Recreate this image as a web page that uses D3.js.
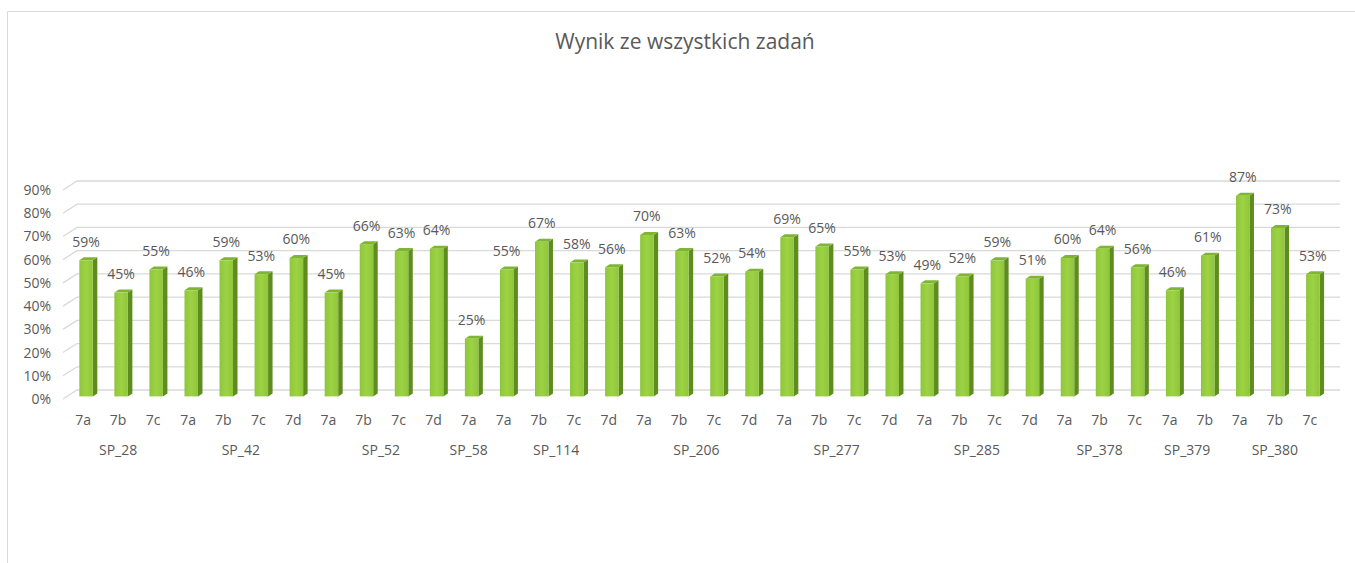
<!DOCTYPE html>
<html><head><meta charset="utf-8">
<script src="https://cdn.jsdelivr.net/npm/d3@7"></script>
<style>
html,body{margin:0;padding:0;background:#fff;}
svg{display:block;font-family:"Open Sans","Liberation Sans",sans-serif;}
</style></head>
<body>
<svg id="chart" width="1355" height="563"></svg>
<script>
const title = "Wynik ze wszystkich zadań";
const schools = ["SP_28","SP_42","SP_52","SP_58","SP_114","SP_206","SP_277","SP_285","SP_378","SP_379","SP_380"];
const classes = [
  ["7a","7b","7c"],
  ["7a","7b","7c","7d"],
  ["7a","7b","7c","7d"],
  ["7a"],
  ["7a","7b","7c","7d"],
  ["7a","7b","7c","7d"],
  ["7a","7b","7c","7d"],
  ["7a","7b","7c","7d"],
  ["7a","7b","7c"],
  ["7a","7b"],
  ["7a","7b","7c"]
];
const values = [
  [0.59,0.45,0.55],
  [0.46,0.59,0.53,0.60],
  [0.45,0.66,0.63,0.64],
  [0.25],
  [0.55,0.67,0.58,0.56],
  [0.70,0.63,0.52,0.54],
  [0.69,0.65,0.55,0.53],
  [0.49,0.52,0.59,0.51],
  [0.60,0.64,0.56],
  [0.46,0.61],
  [0.87,0.73,0.53]
];
const yTicks = [0,0.1,0.2,0.3,0.4,0.5,0.6,0.7,0.8,0.9];

// flatten
const rows = [];
schools.forEach((s,gi)=>classes[gi].forEach((c,ci)=>rows.push({school:s,cls:c,value:values[gi][ci],g:gi,key:gi+"_"+ci})));

const svg = d3.select("#chart");
const textColor = "#595959";
const fs = 14;

// frame
svg.append("path").attr("d","M7.5,563 V11.5 H1355").attr("fill","none").attr("stroke","#d9d9d9").attr("stroke-width",1);

// title
svg.append("text").attr("x",685).attr("y",49).attr("text-anchor","middle")
  .attr("font-size",21).attr("fill",textColor).text(title);

// scales
const x = d3.scaleBand().domain(rows.map(d=>d.key)).range([62,1336.9]).paddingInner(0.615).paddingOuter(0.494);
const yBack = d3.scaleLinear().domain([0,0.9]).range([390,181]);
const yFront = d3.scaleLinear().domain([0,1]).range([396.4,165.7]);
const depthX = 14, depthY = 9;      // wall perspective offset
const sideW = 4.5, topH = 3;        // bar side/top

// gridlines (back wall + left wall diagonal)
const grid = svg.append("g");
yTicks.forEach(t=>{
  const yb = yBack(t);
  grid.append("path")
    .attr("d",`M${63},${yb+depthY} L${63+depthX},${yb} H1340`)
    .attr("fill","none").attr("stroke","#d9d9d9").attr("stroke-width",1.3);
});

// y axis labels
svg.append("g").selectAll("text").data(yTicks).join("text")
  .attr("x",51).attr("y",t=>yBack(t)+depthY+5)
  .attr("text-anchor","end").attr("font-size",fs).attr("fill",textColor)
  .text(d3.format(".0%"));

// bars
const defs = svg.append("defs");
const gF = defs.append("linearGradient").attr("id","front").attr("x1",0).attr("x2",1).attr("y1",0).attr("y2",0);
gF.append("stop").attr("offset","0%").attr("stop-color","#8ec63c");
gF.append("stop").attr("offset","50%").attr("stop-color","#9dd243");
gF.append("stop").attr("offset","100%").attr("stop-color","#8ec63c");

const bars = svg.append("g").selectAll("g").data(rows).join("g");
bars.append("path") // side
  .attr("d",d=>{const x0=x(d.key)+x.bandwidth(), yt=yFront(d.value), yb=yFront(0);
    return `M${x0},${yt} L${x0+sideW},${yt-topH} V${yb-topH} L${x0},${yb} Z`;})
  .attr("fill","#5f8c1f");
bars.append("path") // top
  .attr("d",d=>{const x0=x(d.key), x1=x0+x.bandwidth(), yt=yFront(d.value);
    return `M${x0},${yt} L${x0+sideW},${yt-topH} H${x1+sideW} L${x1},${yt} Z`;})
  .attr("fill","#7fb534");
bars.append("rect") // front
  .attr("x",d=>x(d.key)).attr("y",d=>yFront(d.value))
  .attr("width",x.bandwidth()).attr("height",d=>yFront(0)-yFront(d.value))
  .attr("fill","url(#front)");

// value labels
svg.append("g").selectAll("text").data(rows).join("text")
  .attr("x",d=>x(d.key)+x.bandwidth()/2).attr("y",d=>yFront(d.value)-13.5)
  .attr("text-anchor","middle").attr("font-size",fs).attr("fill",textColor)
  .text(d=>d3.format(".0%")(d.value));

// category labels
svg.append("g").selectAll("text").data(rows).join("text")
  .attr("x",d=>x(d.key)+x.bandwidth()/2-3).attr("y",425)
  .attr("text-anchor","middle").attr("font-size",fs).attr("fill",textColor)
  .text(d=>d.cls);

// group labels
svg.append("g").selectAll("text").data(schools).join("text")
  .attr("x",(s,gi)=>{const r=rows.filter(d=>d.g===gi); return d3.mean(r,d=>x(d.key)+x.bandwidth()/2)-3;})
  .attr("y",455)
  .attr("text-anchor","middle").attr("font-size",fs).attr("fill",textColor)
  .text(d=>d);
</script>
</body></html>
